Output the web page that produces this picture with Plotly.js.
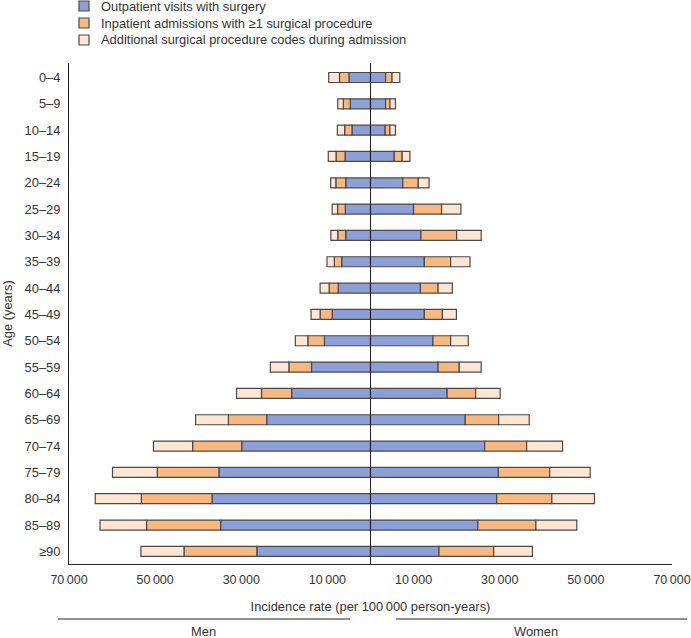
<!DOCTYPE html>
<html>
<head>
<meta charset="utf-8">
<script src="https://cdn.plot.ly/plotly-3.0.1.min.js"></script>
<style>html,body{margin:0;padding:0;background:#fff}#chart{width:691px;height:638px}</style>
</head>
<body>
<div id="chart"></div>
<script>
const ageGroups = ['0–4','5–9','10–14','15–19','20–24','25–29','30–34','35–39','40–44','45–49','50–54','55–59','60–64','65–69','70–74','75–79','80–84','85–89','≥90'];

// Men (per 100 000 person-years), segments stacked outward from the centre
const menOutpatient = [5000,4700,4300,5900,5750,5850,5750,6700,7500,8900,10700,13700,18300,24100,29900,35200,36800,34800,26400];
const menInpatient  = [2200,1600,1700,2100,2300,1800,1850,1700,2100,2800,3850,5250,7000,8900,11400,14300,16400,17200,16900];
const menAdditional = [2500,1300,1700,1800,1200,1250,1600,1700,2100,2100,2900,4300,5800,7600,9100,10400,10700,10800,10000];

// Women
const womenOutpatient = [3500,3500,3400,5500,7500,10000,11700,12500,11600,12500,14500,15700,17800,22000,26500,29700,29300,24900,15900];
const womenInpatient  = [1500,1000,1100,1850,3600,6500,8300,6100,4100,4200,4100,4900,6600,7750,9750,11900,12800,13500,12700];
const womenAdditional = [1800,1300,1300,1800,2500,4500,5700,4500,3300,3250,4100,5100,5700,7100,8350,9400,9900,9500,9000];

const seriesNames = ['Outpatient visits with surgery','Inpatient admissions with \u22651 surgical procedure','Additional surgical procedure codes during admission'];
const seriesColors = ['#8c9fd6','#f8b87f','#fde6d2'];

const tickVals = [-70000,-50000,-30000,-10000,10000,30000,50000,70000];
const tickText = ['70\u2009000','50\u2009000','30\u2009000','10\u2009000','10\u2009000','30\u2009000','50\u2009000','70\u2009000'];

const lineStyle = {color:'#4a4a4a', width:1.2};
const menSeries = [menOutpatient, menInpatient, menAdditional];
const womenSeries = [womenOutpatient, womenInpatient, womenAdditional];

const traces = [];
menSeries.forEach((vals,i)=>{
  traces.push({type:'bar', orientation:'h', y:ageGroups, x:vals.map(v=>-v), name:seriesNames[i] + ' (men)',
    showlegend:false, marker:{color:seriesColors[i], line:lineStyle}, hoverinfo:'skip'});
});
womenSeries.forEach((vals,i)=>{
  traces.push({type:'bar', orientation:'h', y:ageGroups, x:vals, name:seriesNames[i] + ' (women)',
    showlegend:false, marker:{color:seriesColors[i], line:lineStyle}, hoverinfo:'skip'});
});

const font = {family:'"Liberation Sans", Arial, Helvetica, sans-serif', size:12.9, color:'#333'};
const tickFontX = {...font, size:12.5};

// Legend drawn as shapes + text annotations (kept inside the top margin)
const plotTop = 63, plotBottom = 564, plotLeft = 69, plotWidth = 603;
const px2x = p => (p - plotLeft) / plotWidth;
const px2y = p => (plotBottom - p) / (plotBottom - plotTop);
const legendRows = [6, 23, 40];
const legendShapes = seriesNames.map((n,i)=>({type:'rect', xref:'paper', yref:'paper',
  x0:px2x(79), x1:px2x(89), y0:px2y(legendRows[i]+5), y1:px2y(legendRows[i]-5),
  fillcolor:seriesColors[i], line:{color:'#4a4a4a', width:1.2}}));
const legendTexts = seriesNames.map((n,i)=>({xref:'paper', yref:'paper', x:px2x(99), y:px2y(legendRows[i]),
  text:n, showarrow:false, xanchor:'left', yanchor:'middle', font:font}));

const layout = {
  width:691, height:638,
  margin:{l:69, r:19, t:63, b:74},
  paper_bgcolor:'#fff', plot_bgcolor:'#fff',
  font:font,
  barmode:'relative',
  bargap:0.62,
  showlegend:false,
  xaxis:{range:[-70000,70000], tickvals:tickVals, ticktext:tickText, showgrid:false, zeroline:false,
    showline:true, linecolor:'#222', linewidth:1, ticks:'', tickfont:tickFontX, ticklabelstandoff:4,
    title:{text:'Incidence rate (per 100\u2009000 person-years)', font:font, standoff:15}},
  yaxis:{type:'category', categoryorder:'array', categoryarray:ageGroups, range:[18.48,-0.55], autorange:false,
    showgrid:false, zeroline:false, showline:true, linecolor:'#222', linewidth:1, ticks:'', ticklabelstandoff:5,
    tickfont:font, title:{text:'Age (years)', font:font, standoff:9}},
  shapes:[
    {type:'line', xref:'x', yref:'paper', x0:0, x1:0, y0:0, y1:1, line:{color:'#222', width:1}, layer:'above'},
    {type:'line', xref:'paper', yref:'paper', x0:px2x(58), x1:px2x(350), y0:px2y(619), y1:px2y(619), line:{color:'#222', width:1}},
    {type:'line', xref:'paper', yref:'paper', x0:px2x(396), x1:px2x(687), y0:px2y(619), y1:px2y(619), line:{color:'#222', width:1}}
  ].concat(legendShapes),
  annotations:[
    {xref:'paper', yref:'paper', x:px2x(203), y:px2y(631), text:'Men', showarrow:false, font:font, xanchor:'center', yanchor:'middle'},
    {xref:'paper', yref:'paper', x:px2x(536), y:px2y(631), text:'Women', showarrow:false, font:font, xanchor:'center', yanchor:'middle'}
  ].concat(legendTexts)
};

Plotly.newPlot('chart', traces, layout, {displayModeBar:false, staticPlot:true});
</script>
</body>
</html>
